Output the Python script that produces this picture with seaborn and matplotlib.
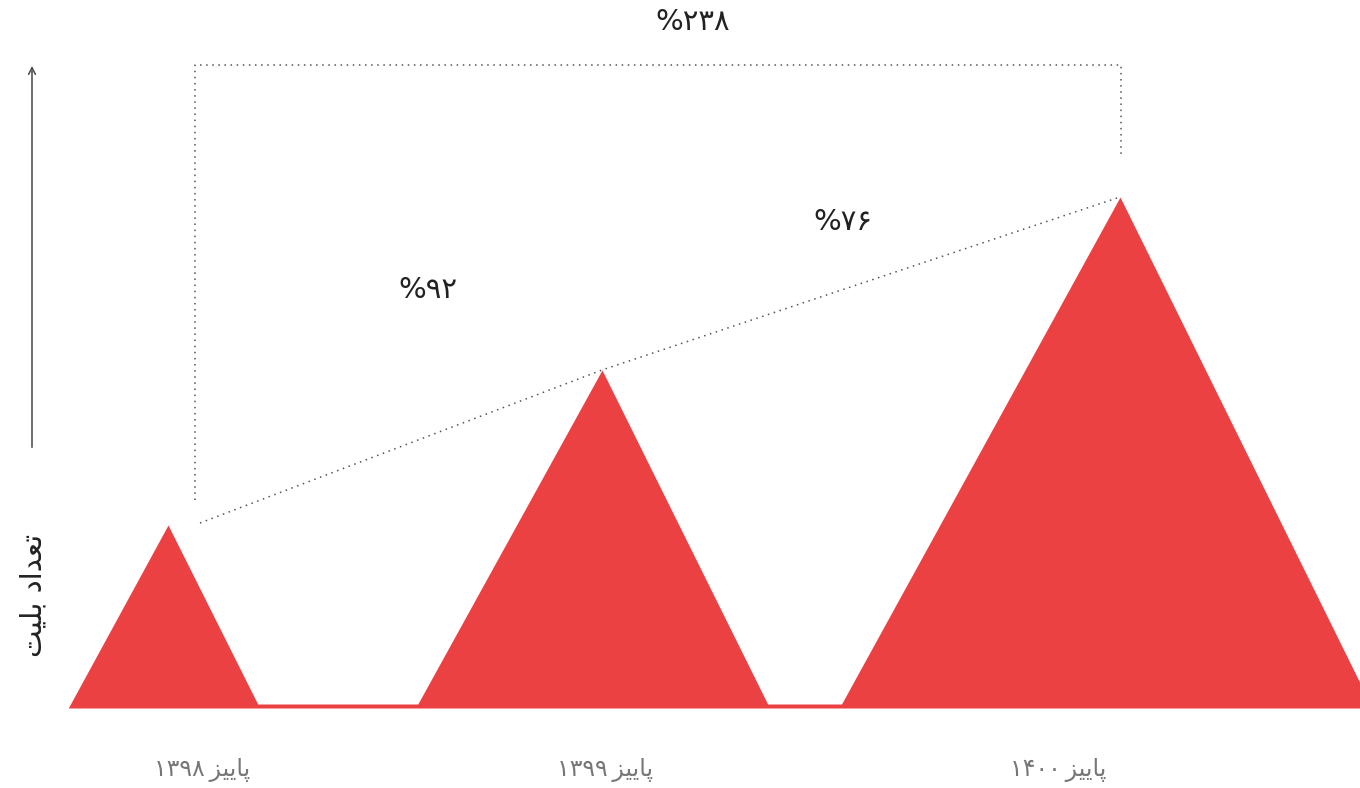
import matplotlib
matplotlib.use("Agg")
import matplotlib.pyplot as plt
import seaborn as sns
import numpy as np
import pandas as pd

# ---- data ----
# Season labels (visual order, pre-shaped Persian glyphs, left-to-right)
word_payiz = "\uFEB0\uFEF4\uFEF3\uFE8E\uFB58"          # پاییز (shaped, visual order)
years = ["\u06F1\u06F3\u06F9\u06F8", "\u06F1\u06F3\u06F9\u06F9", "\u06F1\u06F4\u06F0\u06F0"]
season_labels = [y + "\u2009" + word_payiz for y in years]
ticket_counts = [183, 338, 511]          # relative heights
growth_labels = ["%\u06F9\u06F2", "%\u06F7\u06F6", "%\u06F2\u06F3\u06F8"]   # %92, %76, %238
ylabel_text = "\uFE96\uFEF4\uFEE0\uFE91 \uFEA9\uFE8D\uFEAA\uFECC\uFE97"  # تعداد بلیت

# ---- layout (positions only) ----
centers = [168, 602, 1120]
left_ratio, right_ratio = 0.545, 0.49
strip_h = 4

sns.set_style("white")
plt.rcParams["font.family"] = ["DejaVu Sans"]

fig = plt.figure(figsize=(13.6, 7.88), dpi=100)
ax = fig.add_axes([0, 0, 1, 1])
ax.set_xlim(0, 1360)
ax.set_ylim(-80, 708)
ax.axis("off")

red = "#EC4142"
# silhouette
xs, ys = [], []
for i, (c, h) in enumerate(zip(centers, ticket_counts)):
    xs += [c - left_ratio * h, c, c + right_ratio * h]
    ys += [0 if i == 0 else strip_h, h, strip_h]
df = pd.DataFrame({"x": xs, "y": ys})
ax.fill_between(df["x"], 0, df["y"], color=red, linewidth=0)

# dotted trend line through peaks
dot = (0, (1.0, 3.0))
gcol = "#555555"
tx = [centers[0] + 32] + centers[1:]
ty = [ticket_counts[0] + 2] + ticket_counts[1:]
sns.lineplot(x=tx, y=ty, ax=ax, color=gcol, lw=1.1, linestyle=dot, sort=False)

# bracket for total growth
bx_l, bx_r = 195, 1121
top = 708 - 65
ax.plot([bx_l, bx_l, bx_r, bx_r], [708 - 500, top, top, 708 - 158],
        color=gcol, lw=1.1, linestyle=dot)

# growth labels
tc = "#222222"
ax.text(428, 708 - 290, growth_labels[0], ha="center", va="center", fontsize=21, color=tc)
ax.text(843, 708 - 222, growth_labels[1], ha="center", va="center", fontsize=21, color=tc)
ax.text(693, 708 - 22, growth_labels[2], ha="center", va="center", fontsize=21, color=tc)

# season labels
lc = "#777777"
for x, lab in zip([202, 605, 1058], season_labels):
    ax.text(x, 708 - 770, lab, ha="center", va="center", fontsize=17, color=lc)

# y axis arrow + label
ax.annotate("", xy=(32, 708 - 63), xytext=(32, 708 - 450),
            arrowprops=dict(arrowstyle="->", color="#555555", lw=1.2, mutation_scale=12))
ax.text(33, 708 - 595, ylabel_text, rotation=90, ha="center", va="center",
        fontsize=21, color=tc)

fig.savefig("out.png", dpi=100)
